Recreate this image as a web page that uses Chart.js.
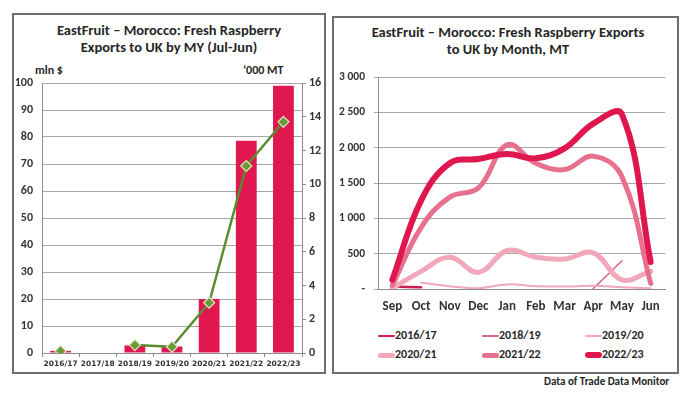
<!DOCTYPE html>
<html>
<head>
<meta charset="utf-8">
<script src="https://cdn.jsdelivr.net/npm/chart.js@4.4.0/dist/chart.umd.min.js"></script>
<style>
  html, body { margin:0; padding:0; background:#fff; }
  body { width:690px; height:397px; position:relative; overflow:hidden; font-family: Carlito, Lato, "Open Sans", sans-serif; color:#262626; }
  .panel { position:absolute; border:2px solid #6e6e6e; box-sizing:border-box; }
  .abs { position:absolute; white-space:nowrap; }
  .title { font-weight:bold; font-size:14.5px; text-align:center; line-height:17px; }
  .unit { font-weight:bold; font-size:12px; }
  canvas { position:absolute; }
  .leg { position:absolute; font-weight:bold; font-size:12px; line-height:14px; white-space:nowrap; }
  .leg span.s { display:inline-block; width:17px; vertical-align:middle; border-radius:3px; }
</style>
</head>
<body>
<script>
// ---------- Left chart data ----------
const seasons = ['2016/17','2017/18','2018/19','2019/20','2020/21','2021/22','2022/23'];
const valueMlnUSD = [0.8, 0, 2.8, 2.4, 20, 78.6, 99];
const volumeThousandMT = [0.12, null, 0.47, 0.37, 2.98, 11.08, 13.7];
const leftTicksMax = 100;
const rightTicksMax = 16;

// ---------- Right chart data ----------
const months = ['Sep','Oct','Nov','Dec','Jan','Feb','Mar','Apr','May','Jun'];
const seriesNames = ['2016/17','2018/19','2019/20','2020/21','2021/22','2022/23'];
const s2016_17 = [35, 25, null, null, null, null, null, null, null, null];
const s2018_19 = [null, null, null, null, null, null, null, 5, 400, null];
const s2019_20 = [null, 90, 40, 10, 65, 40, 35, 45, 25, 10];
const s2020_21 = [10, 250, 450, 235, 545, 450, 425, 510, 130, 250];
const s2021_22 = [50, 870, 1300, 1430, 2040, 1780, 1690, 1880, 1590, 80];
const s2022_23 = [130, 1250, 1780, 1840, 1910, 1850, 1990, 2340, 2470, 380];
const monthlyTicksMax = 3000;
</script>

<div class="panel" style="left:12px; top:13px; width:314px; height:361px;"></div>
<div class="panel" style="left:332px; top:16px; width:347px; height:358px;"></div>

<div class="abs title" style="left:13px; width:312px; top:22px;">EastFruit – Morocco: Fresh Raspberry<br>Exports to UK by MY (Jul-Jun)</div>
<div class="abs unit" style="left:35px; top:63px;">mln $</div>
<div class="abs unit" style="left:243px; top:63px;">‘000 MT</div>

<div class="abs title" style="left:333px; width:350px; top:24px;">EastFruit – Morocco: Fresh Raspberry Exports<br>to UK by Month, MT</div>

<canvas id="c1" width="312" height="359" style="left:13px; top:14px; width:312px; height:359px;"></canvas>
<canvas id="c2" width="345" height="300" style="left:333px; top:17px; width:345px; height:300px;"></canvas>

<div id="legend"></div>
<div class="abs" style="left:544px; top:375px; font-weight:bold; font-size:11px;">Data of Trade Data Monitor</div>

<script>
const FONT = 'Carlito, Lato, "Open Sans", sans-serif';
const gridGray = '#a6a6a6';
const axisGray = '#8c8c8c';

// ---------- Left chart ----------
new Chart(document.getElementById('c1'), {
  type: 'bar',
  data: {
    labels: seasons,
    datasets: [
      {
        type: 'line', label: "'000 MT", data: volumeThousandMT, yAxisID: 'y1', order: 0,
        borderColor: '#5b8c2e', borderWidth: 2.5, tension: 0, spanGaps: false,
        pointStyle: 'rectRot', pointRadius: 5.5, pointBackgroundColor: '#6a9a35',
        pointBorderColor: '#dfe8c4', pointBorderWidth: 1.2
      },
      {
        type: 'bar', label: 'mln $', data: valueMlnUSD, yAxisID: 'y', order: 1,
        backgroundColor: '#e0184f', barPercentage: 0.56, categoryPercentage: 1.0
      }
    ]
  },
  options: {
    responsive: false, animation: false, devicePixelRatio: 1,
    layout: { padding: { top: 69, left: 0, right: 0, bottom: 0 } },
    plugins: { legend: { display: false }, tooltip: { enabled: false } },
    scales: {
      x: {
        grid: { offset: true, drawOnChartArea: false, tickLength: 4, color: axisGray },
        border: { color: axisGray },
        ticks: { font: { family: '"DejaVu Sans", Verdana, sans-serif', size: 7.5, weight: 'bold' }, color: '#333', maxRotation: 0, autoSkip: false, padding: 3 },
        afterFit: s => { s.height = 20; }
      },
      y: {
        position: 'left', min: 0, max: leftTicksMax,
        ticks: { stepSize: 10, font: { family: FONT, size: 12, weight: 'bold' }, color: '#333', padding: 9 },
        grid: { color: gridGray, drawTicks: false },
        border: { color: axisGray },
        afterFit: s => { s.width = 29; }
      },
      y1: {
        position: 'right', min: 0, max: rightTicksMax,
        ticks: { stepSize: 2, font: { family: FONT, size: 12, weight: 'bold' }, color: '#333', padding: 3 },
        grid: { drawOnChartArea: false, tickLength: 4, color: axisGray },
        border: { color: axisGray },
        afterFit: s => { s.width = 23; }
      }
    }
  }
});

// ---------- Right chart ----------
const monthlySeries = [s2016_17, s2018_19, s2019_20, s2020_21, s2021_22, s2022_23];
const seriesStyle = [
  { color: '#cc1f52', width: 2.5 },
  { color: '#e0628c', width: 1.5 },
  { color: '#f0a8bc', width: 2 },
  { color: '#f2a7ba', width: 5 },
  { color: '#e8708f', width: 5 },
  { color: '#e0174f', width: 6 }
];
const fmt = v => v === 0 ? '-' : String(v).replace(/\B(?=(\d{3})+(?!\d))/g, ' ');

new Chart(document.getElementById('c2'), {
  type: 'line',
  data: {
    labels: months,
    datasets: monthlySeries.map((d, i) => ({
      label: seriesNames[i], data: d,
      borderColor: seriesStyle[i].color, borderWidth: seriesStyle[i].width,
      pointRadius: 0, tension: 0.4, spanGaps: false, fill: false,
      borderCapStyle: 'round', borderJoinStyle: 'round',
      order: 10 - i
    }))
  },
  options: {
    responsive: false, animation: false, devicePixelRatio: 1,
    layout: { padding: { top: 60, left: 0, right: 13, bottom: 0 } },
    plugins: { legend: { display: false }, tooltip: { enabled: false } },
    scales: {
      x: {
        offset: true,
        grid: { display: false, drawTicks: false },
        border: { color: axisGray },
        ticks: { font: { family: FONT, size: 13, weight: 'bold' }, color: '#333', maxRotation: 0, autoSkip: false, padding: 10 },
        afterFit: s => { s.height = 28; }
      },
      y: {
        min: 0, max: monthlyTicksMax,
        ticks: { stepSize: 500, font: { family: FONT, size: 11.5, weight: 'bold' }, color: '#333', padding: 9, callback: v => fmt(v) },
        grid: { color: gridGray, tickLength: 4 },
        border: { color: axisGray },
        afterFit: s => { s.width = 45; }
      }
    }
  }
});

// ---------- Right chart legend (HTML) ----------
const legPos = [[378,328],[482,328],[585,328],[378,347],[482,347],[585,347]];
const legEl = document.getElementById('legend');
seriesNames.forEach((n, i) => {
  const d = document.createElement('div');
  d.className = 'leg';
  d.style.left = legPos[i][0] + 'px';
  d.style.top = legPos[i][1] + 'px';
  const sw = document.createElement('span');
  sw.className = 's';
  sw.style.height = Math.max(2, seriesStyle[i].width) + 'px';
  sw.style.background = seriesStyle[i].color;
  d.appendChild(sw);
  d.appendChild(document.createTextNode(n));
  legEl.appendChild(d);
});
</script>
</body>
</html>
